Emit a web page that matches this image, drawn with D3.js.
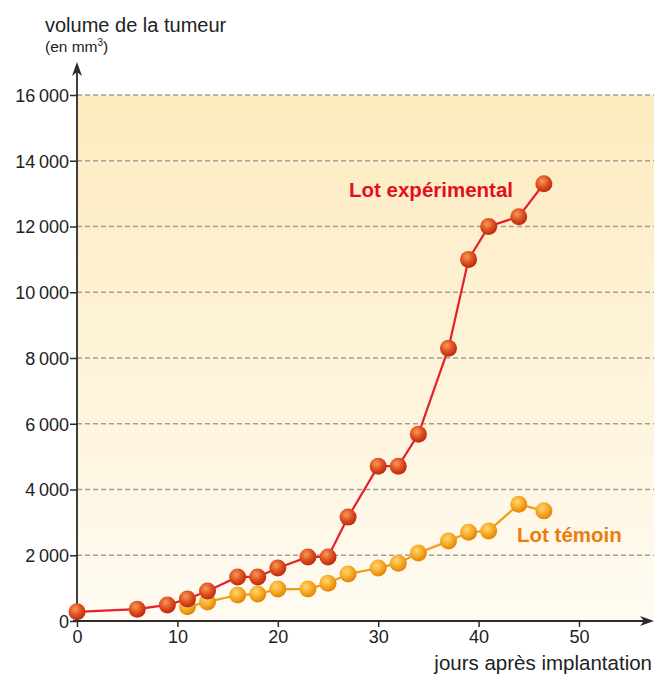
<!DOCTYPE html>
<html>
<head>
<meta charset="utf-8">
<script src="https://cdn.jsdelivr.net/npm/d3@7"></script>
<style>
  body { margin: 0; background: #fff; }
  svg { display: block; font-family: "Liberation Sans", Arial, sans-serif; }
</style>
</head>
<body>
<svg id="chart" width="654" height="677"></svg>
<script>
// tumour volume data (mm3)
const expDays = [0, 6, 9, 11, 13, 16, 18, 20, 23, 25, 27, 30, 32, 34, 37, 39, 41, 44, 46.5];
const expVolume = [280, 360, 490, 670, 910, 1340, 1340, 1610, 1950, 1950, 3160, 4710, 4710, 5680, 8300, 11000, 12000, 12300, 13300];
const ctrlDays = [11, 13, 16, 18, 20, 23, 25, 27, 30, 32, 34, 37, 39, 41, 44, 46.5];
const ctrlVolume = [430, 580, 790, 820, 970, 970, 1150, 1430, 1610, 1760, 2070, 2430, 2700, 2740, 3550, 3350];
const xTicks = [0, 10, 20, 30, 40, 50];
const yTicks = [0, 2000, 4000, 6000, 8000, 10000, 12000, 14000, 16000];

const svg = d3.select('#chart');
const x0 = 77, y0 = 621;

const xScale = d3.scaleLinear().domain([0, 50]).range([x0, 579]);
const yScale = d3.scaleLinear().domain([0, 16000]).range([y0, 95]);

const fmt = v => v === 0 ? '0' : d3.format(',')(v).replace(',', '\u2009');

// gradients
const defs = svg.append('defs');
const bg = defs.append('linearGradient').attr('id', 'bg')
    .attr('x1', 0).attr('y1', 0).attr('x2', 0).attr('y2', 1);
bg.append('stop').attr('offset', '0%').attr('stop-color', '#fdebbf');
bg.append('stop').attr('offset', '100%').attr('stop-color', '#fffbf2');

function ball(id, light, mid, dark) {
    const g = defs.append('radialGradient').attr('id', id)
        .attr('cx', '40%').attr('cy', '35%').attr('r', '65%');
    g.append('stop').attr('offset', '0%').attr('stop-color', light);
    g.append('stop').attr('offset', '55%').attr('stop-color', mid);
    g.append('stop').attr('offset', '100%').attr('stop-color', dark);
}
ball('ballRed', '#f79a5a', '#e0501f', '#b72a12');
ball('ballOrange', '#ffd873', '#f7aa26', '#de8408');

// background
svg.append('rect')
    .attr('x', x0).attr('y', yScale(16000))
    .attr('width', 654 - x0).attr('height', y0 - yScale(16000))
    .attr('fill', 'url(#bg)');

// gridlines
svg.selectAll('.grid')
    .data(yTicks.filter(d => d > 0))
    .enter().append('line')
    .attr('x1', x0).attr('x2', 654)
    .attr('y1', d => yScale(d)).attr('y2', d => yScale(d))
    .attr('stroke', '#a59d95')
    .attr('stroke-width', 1.3)
    .attr('stroke-dasharray', '5,3');

// axes
const axisColor = '#2b2b2b';
const yAxis = svg.append('g')
    .attr('transform', `translate(${x0},0)`)
    .call(d3.axisLeft(yScale).tickValues(yTicks).tickFormat(fmt).tickSize(7).tickSizeOuter(0));
const xAxis = svg.append('g')
    .attr('transform', `translate(0,${y0})`)
    .call(d3.axisBottom(xScale).tickValues(xTicks).tickSize(6).tickSizeOuter(0));

[yAxis, xAxis].forEach(a => {
    a.select('.domain').remove();
    a.selectAll('line').attr('stroke', axisColor).attr('stroke-width', 1.5);
    a.selectAll('text').attr('fill', '#222').attr('font-size', 18)
        .attr('font-family', '"Liberation Sans", Arial, sans-serif');
});
yAxis.selectAll('text').attr('x', -8).attr('dy', '0.35em');
xAxis.selectAll('text').attr('y', 9);

// axis lines with arrows
svg.append('line').attr('x1', x0).attr('x2', x0).attr('y1', y0).attr('y2', 72)
    .attr('stroke', axisColor).attr('stroke-width', 1.8);
svg.append('path')
    .attr('d', `M${x0},62 L${x0 - 5},76 L${x0},72 L${x0 + 5},76 Z`)
    .attr('fill', axisColor);
svg.append('line').attr('x1', x0 - 4).attr('x2', 645).attr('y1', y0).attr('y2', y0)
    .attr('stroke', axisColor).attr('stroke-width', 1.8);
svg.append('path')
    .attr('d', `M654,${y0} L640,${y0 - 5} L644,${y0} L640,${y0 + 5} Z`)
    .attr('fill', axisColor);

// axis titles
svg.append('text').attr('x', 45).attr('y', 32)
    .attr('font-size', 20).attr('fill', '#222')
    .text('volume de la tumeur');
const unit = svg.append('text').attr('x', 45).attr('y', 52)
    .attr('font-size', 15.5).attr('fill', '#222');
unit.append('tspan').text('(en mm');
unit.append('tspan').attr('font-size', 10).attr('dy', -6).text('3');
unit.append('tspan').attr('dy', 6).text(')');
svg.append('text').attr('x', 652).attr('y', 670)
    .attr('text-anchor', 'end')
    .attr('font-size', 20.5).attr('fill', '#222')
    .text('jours après implantation');

// series
function drawSeries(days, vals, lineColor, fill) {
    const pts = days.map((d, i) => ({ day: d, v: vals[i] }));
    const line = d3.line().x(d => xScale(d.day)).y(d => yScale(d.v));
    svg.append('path').datum(pts)
        .attr('fill', 'none')
        .attr('stroke', lineColor)
        .attr('stroke-width', 2.2)
        .attr('d', line);
    svg.append('g').selectAll('circle')
        .data(pts)
        .enter().append('circle')
        .attr('cx', d => xScale(d.day))
        .attr('cy', d => yScale(d.v))
        .attr('r', 8.5)
        .attr('fill', fill);
}
drawSeries(ctrlDays, ctrlVolume, '#f19a1c', 'url(#ballOrange)');
drawSeries(expDays, expVolume, '#e4202a', 'url(#ballRed)');

// series labels
svg.append('text').attr('x', 349).attr('y', 197)
    .attr('font-size', 20.5).attr('font-weight', 'bold').attr('fill', '#e3101f')
    .text('Lot expérimental');
svg.append('text').attr('x', 517).attr('y', 542)
    .attr('font-size', 20.5).attr('font-weight', 'bold').attr('fill', '#ec7c0c')
    .text('Lot témoin');
</script>
</body>
</html>
